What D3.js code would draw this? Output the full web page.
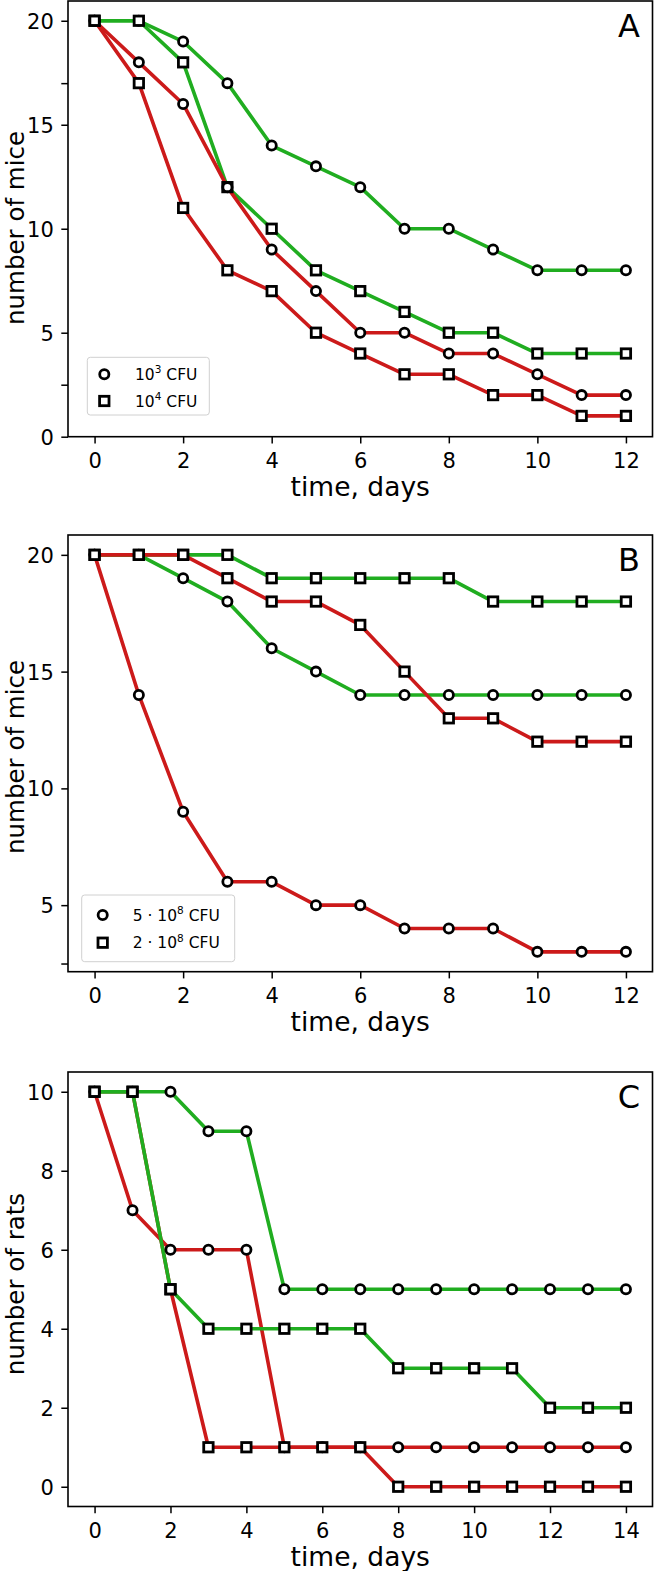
<!DOCTYPE html>
<html><head><meta charset="utf-8">
<script src="https://cdn.jsdelivr.net/npm/d3@7"></script>
<style>body{margin:0;background:#fff} svg{display:block} text{font-family:"DejaVu Sans",sans-serif;fill:#000}</style>
</head><body><svg id="chart" width="654" height="1571"></svg>
<script>
// ---------- data ----------
const daysAB = [0,1,2,3,4,5,6,7,8,9,10,11,12];
const daysC  = [0,1,2,3,4,5,6,7,8,9,10,11,12,13,14];

const aGreenCircle = [20,20,19,17,14,13,12,10,10,9,8,8,8];
const aGreenSquare = [20,20,18,12,10,8,7,6,5,5,4,4,4];
const aRedCircle   = [20,18,16,12,9,7,5,5,4,4,3,2,2];
const aRedSquare   = [20,17,11,8,7,5,4,3,3,2,2,1,1];

const bGreenCircle = [20,20,19,18,16,15,14,14,14,14,14,14,14];
const bGreenSquare = [20,20,20,20,19,19,19,19,19,18,18,18,18];
const bRedCircle   = [20,14,9,6,6,5,5,4,4,4,3,3,3];
const bRedSquare   = [20,20,20,19,18,18,17,15,13,13,12,12,12];

const cRedCircle   = [10,7,6,6,6,1,1,1,1,1,1,1,1,1,1];
const cRedSquare   = [10,10,5,1,1,1,1,1,0,0,0,0,0,0,0];
const cGreenCircle = [10,10,10,9,9,5,5,5,5,5,5,5,5,5,5];
const cGreenSquare = [10,10,5,4,4,4,4,4,3,3,3,3,2,2,2];

const xTicksAB = [0,2,4,6,8,10,12];
const xTicksC  = [0,2,4,6,8,10,12,14];
const yTicksA  = [0,5,10,15,20];
const yMinorA  = [2.5,17];
const yTicksB  = [5,10,15,20];
const yMinorB  = [2.5];
const yTicksC  = [0,2,4,6,8,10];

const legendA = ["10|3| CFU", "10|4| CFU"];
const legendB = ["5 · 10|8| CFU", "2 · 10|8| CFU"];

const panelLetters = ["A","B","C"];
const yLabels = ["number of mice","number of mice","number of rats"];
const xLabel = "time, days";

// ---------- styling / layout ----------
const GREEN = "#20ad20", RED = "#cc1a1a";
const svg = d3.select("#chart");
const L = 68, R = 652.5;

const panels = [
  {top:1, bottom:436.7, xdom:[-0.6,12.6], ydom:[0,20.95], days:daysAB, xt:xTicksAB, yt:yTicksA, ym:yMinorA, ylc:228,
   series:[[aGreenCircle,GREEN,"c"],[aGreenSquare,GREEN,"s"],[aRedCircle,RED,"c"],[aRedSquare,RED,"s"]],
   legend:{texts:legendA, x:87.3, y:357.3, w:122, h:57.7, mx:104.3, tx:135, rows:[374.3,401]}},
  {top:535, bottom:971.7, xdom:[-0.6,12.6], ydom:[2.15,20.85], days:daysAB, xt:xTicksAB, yt:yTicksB, ym:yMinorB, ylc:757,
   series:[[bGreenCircle,GREEN,"c"],[bGreenSquare,GREEN,"s"],[bRedCircle,RED,"c"],[bRedSquare,RED,"s"]],
   legend:{texts:legendB, x:81.7, y:895, w:153, h:66.7, mx:102.7, tx:132.7, rows:[915,942.7]}},
  {top:1072, bottom:1506.5, xdom:[-0.7,14.7], ydom:[-0.5,10.5], days:daysC, xt:xTicksC, yt:yTicksC, ym:[], ylc:1284,
   series:[[cRedCircle,RED,"c"],[cRedSquare,RED,"s"],[cGreenCircle,GREEN,"c"],[cGreenSquare,GREEN,"s"]],
   legend:null}
];

function marker(g, kind, x, y){
  if(kind==="c"){
    g.append("circle").attr("cx",x).attr("cy",y).attr("r",4.6)
      .attr("fill","#fff").attr("stroke","#000").attr("stroke-width",2.8);
  } else {
    g.append("rect").attr("x",x-4.7).attr("y",y-4.7).attr("width",9.4).attr("height",9.4)
      .attr("fill","#fff").attr("stroke","#000").attr("stroke-width",2.8);
  }
}

function supText(sel, str){
  const parts = str.split("|");
  sel.append("tspan").text(parts[0]);
  sel.append("tspan").text(parts[1]).attr("font-size","10.5px").attr("dy",-6.5);
  sel.append("tspan").text(parts[2]).attr("dy",6.5);
}

panels.forEach((p,i)=>{
  const x = d3.scaleLinear().domain(p.xdom).range([L,R]);
  const y = d3.scaleLinear().domain(p.ydom).range([p.bottom,p.top]);
  const g = svg.append("g");

  // lines
  const line = d3.line().x((d,j)=>x(p.days[j])).y(d=>y(d));
  p.series.forEach(s=>{
    g.append("path").datum(s[0]).attr("d",line).attr("fill","none")
      .attr("stroke",s[1]).attr("stroke-width",3.6).attr("stroke-linejoin","round");
  });
  // markers
  p.series.forEach(s=>{
    s[0].forEach((v,j)=>marker(g,s[2],x(p.days[j]),y(v)));
  });

  // axes
  const xa = d3.axisBottom(x).tickValues(p.xt).tickSize(6.7).tickFormat(d3.format("d"));
  const ya = d3.axisLeft(y).tickValues(p.yt).tickSize(6.7).tickPadding(7.5).tickFormat(d3.format("d"));
  const gx = g.append("g").attr("transform",`translate(0,${p.bottom})`).call(xa);
  const gy = g.append("g").attr("transform",`translate(${L},0)`).call(ya);
  const gm = g.append("g").attr("transform",`translate(${L},0)`)
    .call(d3.axisLeft(y).tickValues(p.ym).tickSize(6.7).tickFormat(""));
  [gx,gy,gm].forEach(a=>{
    a.select(".domain").remove();
    a.selectAll(".tick line").attr("stroke","#000").attr("stroke-width",1.5);
    a.selectAll(".tick text").attr("font-size","21px").attr("font-family","DejaVu Sans").attr("fill","#000");
  });
  gx.selectAll(".tick text").attr("y",31).attr("dy",null);
  gy.selectAll(".tick text").attr("dy","0.36em");

  // frame
  g.append("rect").attr("x",L).attr("y",p.top).attr("width",R-L).attr("height",p.bottom-p.top)
    .attr("fill","none").attr("stroke","#000").attr("stroke-width",1.6);

  // labels
  g.append("text").attr("x",(L+R)/2).attr("y",p.bottom+59).attr("text-anchor","middle")
    .attr("font-size","26.5px").text(xLabel);
  g.append("text").attr("transform",`translate(24,${p.ylc}) rotate(-90)`)
    .attr("text-anchor","middle").attr("font-size","24.5px").text(yLabels[i]);
  g.append("text").attr("x",640).attr("y",p.top+36).attr("text-anchor","end")
    .attr("font-size","32px").text(panelLetters[i]);

  // legend
  if(p.legend){
    const lg = p.legend;
    g.append("rect").attr("x",lg.x).attr("y",lg.y).attr("width",lg.w).attr("height",lg.h)
      .attr("rx",3).attr("fill","#fff").attr("fill-opacity",0.85).attr("stroke","#d0d0d0").attr("stroke-width",1);
    lg.texts.forEach((t,k)=>{
      marker(g, k===0?"c":"s", lg.mx, lg.rows[k]);
      const tx = g.append("text").attr("x",lg.tx).attr("y",lg.rows[k]+5.5).attr("font-size","15.5px");
      supText(tx,t);
    });
  }
});
</script></body></html>
